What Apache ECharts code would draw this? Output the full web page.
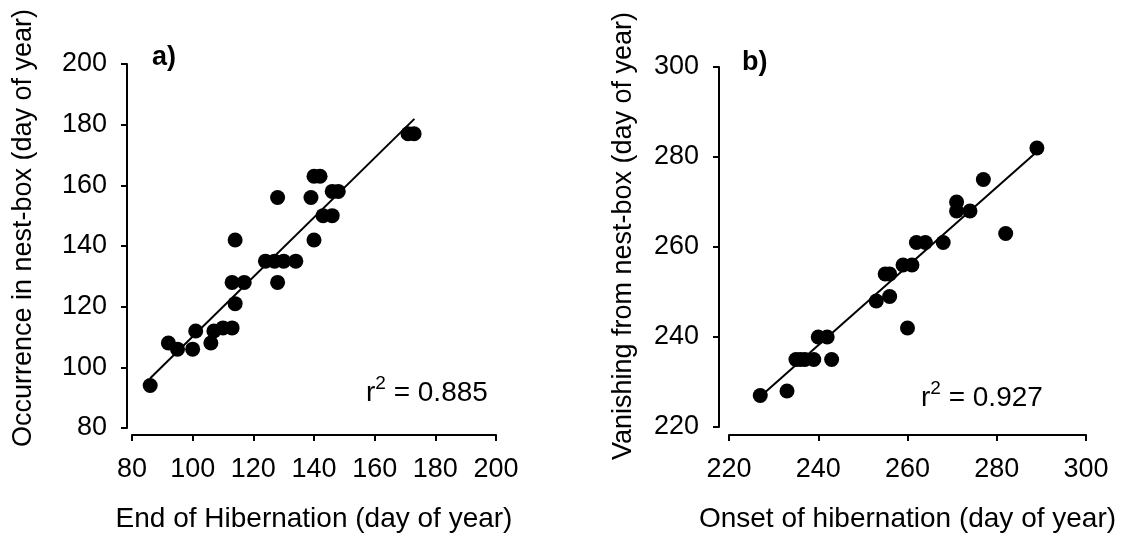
<!DOCTYPE html>
<html>
<head>
<meta charset="utf-8">
<script src="https://cdn.jsdelivr.net/npm/echarts@6/dist/echarts.min.js"></script>
<style>
html, body { margin: 0; padding: 0; background: #fff; }
#chart { width: 1122px; height: 539px; }
</style>
</head>
<body>
<div id="chart"></div>
<script>
// panel a) end of hibernation vs occurrence in nest-box
var endHib = [86, 92, 95, 100, 101, 106, 107, 110, 113, 114, 113, 117, 114, 124, 127, 130, 134, 128, 128, 139, 140, 140, 142, 143, 146, 146, 148, 171, 173];
var occurrence = [94, 108, 106, 106, 112, 108, 112, 113, 113, 121, 128, 128, 142, 135, 135, 135, 135, 128, 156, 156, 142, 163, 163, 150, 150, 158, 158, 177, 177];
var fitA = [[86, 96.4], [173.1, 181.9]];
var r2A = '0.885';

// panel b) onset of hibernation vs vanishing from nest-box
var onsetHib = [227, 233, 235, 236, 237, 239, 243, 240, 242, 253, 256, 255, 256, 259, 261, 260, 262, 264, 268, 271, 271, 274, 277, 282, 289];
var vanishing = [227, 228, 235, 235, 235, 235, 235, 240, 240, 248, 249, 254, 254, 256, 256, 242, 261, 261, 261, 270, 268, 268, 275, 263, 282];
var fitB = [[228.1, 227.7], [288.8, 281.0]];
var r2B = '0.927';

var font = 'Liberation Sans, Arial, sans-serif';

function pairs(xs, ys) {
    return xs.map(function (x, i) { return [x, ys[i]]; });
}

function axis(gridIndex, min, max, interval, name, opts) {
    return {
        gridIndex: gridIndex,
        type: 'value',
        min: min,
        max: max,
        interval: interval,
        offset: opts.offset,
        name: name,
        nameLocation: 'middle',
        nameGap: opts.nameGap,
        nameTextStyle: { color: '#000', fontSize: opts.nameSize, fontFamily: font, padding: opts.namePad || 0 },
        axisLine: { show: true, lineStyle: { color: '#000', width: 2 } },
        axisTick: { show: true, inside: false, length: 6, lineStyle: { color: '#000', width: 2 } },
        axisLabel: { color: '#000', fontSize: 27, fontFamily: font, margin: opts.margin },
        splitLine: { show: false }
    };
}

function r2Text(value) {
    return {
        text: '{a|r}{b|2}{a| = ' + value + '}',
        rich: {
            a: { fontSize: 28, fontFamily: font, fill: '#000', verticalAlign: 'bottom' },
            b: { fontSize: 19, fontFamily: font, fill: '#000', verticalAlign: 'bottom', padding: [0, 0, 14, 0] }
        }
    };
}

var chart = echarts.init(document.getElementById('chart'));

chart.setOption({
    animation: false,
    backgroundColor: '#fff',
    grid: [
        { left: 132, top: 64, width: 364, height: 364, outerBoundsMode: 'none' },
        { left: 729, top: 67, width: 357, height: 360, outerBoundsMode: 'none' }
    ],
    xAxis: [
        axis(0, 80, 200, 20, 'End of Hibernation (day of year)', { offset: 7, nameGap: 70, margin: 21, nameSize: 28 }),
        axis(1, 220, 300, 20, 'Onset of hibernation (day of year)', { offset: 8, nameGap: 70, margin: 21, nameSize: 28 })
    ],
    yAxis: [
        axis(0, 80, 200, 20, 'Occurrence in nest-box (day of year)', { offset: 5, nameGap: 90, margin: 20, nameSize: 27, namePad: [0, 0, 0, 36] }),
        axis(1, 220, 300, 20, 'Vanishing from nest-box (day of year)', { offset: 10, nameGap: 82, margin: 20, nameSize: 27, namePad: [0, 0, 0, 22] })
    ],
    graphic: [
        { type: 'text', left: 152, top: 44, style: { text: 'a)', fill: '#000', font: 'bold 27px ' + font } },
        { type: 'text', left: 742, top: 49, style: { text: 'b)', fill: '#000', font: 'bold 27px ' + font } },
        { type: 'text', left: 366, top: 374, style: r2Text(r2A) },
        { type: 'text', left: 921, top: 379, style: r2Text(r2B) }
    ],
    series: [
        {
            type: 'line', xAxisIndex: 0, yAxisIndex: 0, data: fitA,
            showSymbol: false, silent: true, z: 1,
            lineStyle: { color: '#000', width: 2 }
        },
        {
            type: 'scatter', xAxisIndex: 0, yAxisIndex: 0, data: pairs(endHib, occurrence),
            symbolSize: 15, itemStyle: { color: '#000', opacity: 1 }, z: 2
        },
        {
            type: 'line', xAxisIndex: 1, yAxisIndex: 1, data: fitB,
            showSymbol: false, silent: true, z: 1,
            lineStyle: { color: '#000', width: 2 }
        },
        {
            type: 'scatter', xAxisIndex: 1, yAxisIndex: 1, data: pairs(onsetHib, vanishing),
            symbolSize: 15, itemStyle: { color: '#000', opacity: 1 }, z: 2
        }
    ]
});

window.onresize = function () {
    chart.resize();
};
</script>
</body>
</html>
